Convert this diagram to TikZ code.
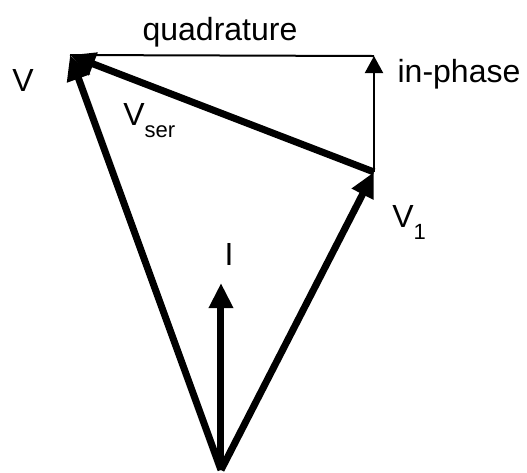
\documentclass[tikz,border=0pt]{standalone}
\usepackage{fontspec}
\setmainfont{Liberation Sans}
\usetikzlibrary{arrows.meta}
\newcommand\lowsub[1]{\raisebox{-6pt}{\fontsize{11}{13}\selectfont #1}}

\begin{document}
\begin{tikzpicture}[x=0.5pt,y=-0.5pt,>={Triangle[length=12.5pt,width=11.5pt]},
    phasor/.style={->,line width=3.5pt},
    comp/.style={line width=1pt},
    lbl/.style={font=\fontsize{16}{19}\selectfont,inner sep=0pt,anchor=base}]
  \useasboundingbox (0,0) rectangle (527,473);
  % vertices of the phasor diagram
  \coordinate (O) at (221,470);
  \coordinate (Itip) at (221,283);
  \coordinate (V1) at (374,172);
  \coordinate (V) at (70,55);
  \coordinate (Q) at (374,56);
  % components of the series voltage
  \draw[comp] (V) -- (Q);
  \draw[comp,-{Triangle[length=8.5pt,width=9pt]}] (V1) -- (Q);
  % phasors
  \draw[phasor] (O) -- (Itip);
  \draw[phasor] (O) -- (V1);
  \draw[phasor] (O) -- (V);
  \draw[phasor] (V1) -- (V);
  % labels
  \node[lbl] (quad) at (220,40) {quadrature};
  \node[lbl] (inph) at (459,82) {in-phase};
  \node[lbl] (vlbl) at (23,91) {V};
  \node[lbl,anchor=base west] (vser) at (123,125) {V\lowsub{ser}};
  \node[lbl,anchor=base west] (v1lbl) at (392,227) {V\lowsub{1}};
  \node[lbl] (ilbl) at (229,265) {I};
\end{tikzpicture}
\end{document}
